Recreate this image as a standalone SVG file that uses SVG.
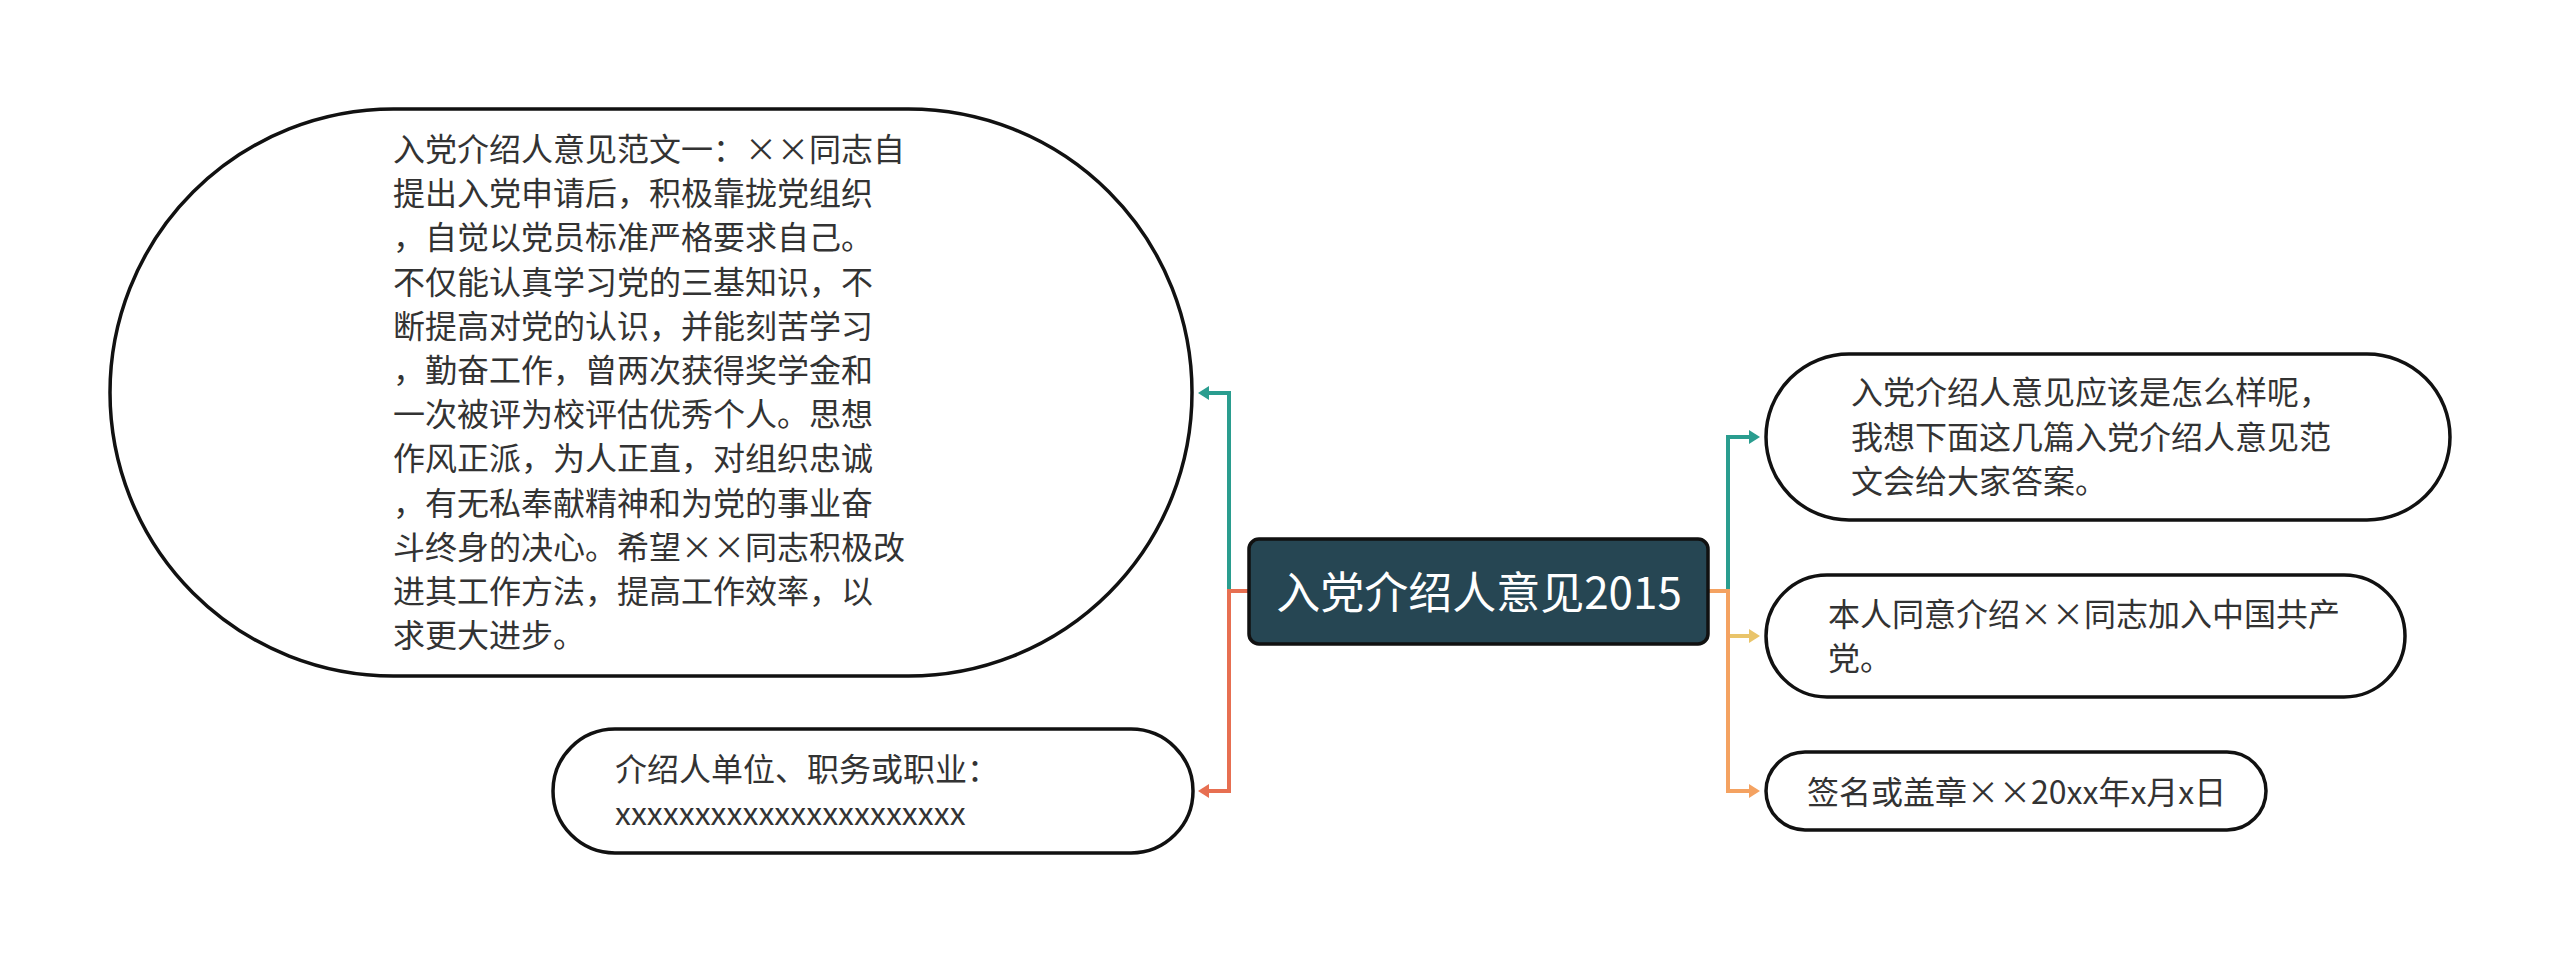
<svg xmlns="http://www.w3.org/2000/svg" width="2560" height="963" viewBox="0 0 2560 963">
<defs>
<style>
.node{fill:#ffffff;stroke:#111111;stroke-width:3.5}
.t{font-family:"Noto Sans CJK SC","Noto Sans",sans-serif;font-size:32px;fill:#333333}
.ct{font-family:"Noto Sans CJK SC","Noto Sans",sans-serif;font-size:44px;fill:#ffffff}
.c{fill:none;stroke-width:4}
</style>
<marker id="aTeal" markerUnits="userSpaceOnUse" markerWidth="12" markerHeight="16" refX="0" refY="7" orient="auto" viewBox="0 0 12 16"><path d="M0,0 L11,7 L0,14 z" fill="#2a9d8f"/></marker>
<marker id="aRed" markerUnits="userSpaceOnUse" markerWidth="12" markerHeight="16" refX="0" refY="7" orient="auto" viewBox="0 0 12 16"><path d="M0,0 L11,7 L0,14 z" fill="#e76f51"/></marker>
<marker id="aYel" markerUnits="userSpaceOnUse" markerWidth="12" markerHeight="16" refX="0" refY="7" orient="auto" viewBox="0 0 12 16"><path d="M0,0 L11,7 L0,14 z" fill="#e9c46a"/></marker>
<marker id="aOra" markerUnits="userSpaceOnUse" markerWidth="12" markerHeight="16" refX="0" refY="7" orient="auto" viewBox="0 0 12 16"><path d="M0,0 L11,7 L0,14 z" fill="#f4a261"/></marker>
</defs>
<rect width="2560" height="963" fill="#ffffff"/>
<g id="connectors">
<path class="c" stroke="#2a9d8f" d="M1229,591 V393 H1209" marker-end="url(#aTeal)"/>
<path class="c" stroke="#e76f51" d="M1249,591 H1229 V791 H1209" marker-end="url(#aRed)"/>
<path class="c" stroke="#2a9d8f" d="M1728,591 V437 H1749" marker-end="url(#aTeal)"/>
<path class="c" stroke="#e9c46a" d="M1728,636 H1749" marker-end="url(#aYel)"/>
<path class="c" stroke="#f4a261" d="M1709,591 H1728 V791 H1749" marker-end="url(#aOra)"/>
</g>
<g id="center">
<rect x="1249" y="539" width="459" height="105" rx="10" fill="#264653" stroke="#111111" stroke-width="3.5"/>
<text class="ct" x="1479" y="609" text-anchor="middle">入党介绍人意见2015</text>
</g>
<g id="node-left-1">
<rect class="node" x="110" y="109" width="1082" height="567" rx="283.5"/>
<text class="t">
<tspan x="393" y="161">入党介绍人意见范文一：××同志自</tspan>
<tspan x="393" y="205.2">提出入党申请后，积极靠拢党组织</tspan>
<tspan x="393" y="249.4">，自觉以党员标准严格要求自己。</tspan>
<tspan x="393" y="293.6">不仅能认真学习党的三基知识，不</tspan>
<tspan x="393" y="337.8">断提高对党的认识，并能刻苦学习</tspan>
<tspan x="393" y="382">，勤奋工作，曾两次获得奖学金和</tspan>
<tspan x="393" y="426.2">一次被评为校评估优秀个人。思想</tspan>
<tspan x="393" y="470.4">作风正派，为人正直，对组织忠诚</tspan>
<tspan x="393" y="514.6">，有无私奉献精神和为党的事业奋</tspan>
<tspan x="393" y="558.8">斗终身的决心。希望××同志积极改</tspan>
<tspan x="393" y="603">进其工作方法，提高工作效率，以</tspan>
<tspan x="393" y="647.2">求更大进步。</tspan>
</text>
</g>
<g id="node-left-2">
<rect class="node" x="553" y="729" width="640" height="124" rx="62"/>
<text class="t">
<tspan x="615" y="781">介绍人单位、职务或职业：</tspan>
<tspan x="615" y="825">xxxxxxxxxxxxxxxxxxxxxx</tspan>
</text>
</g>
<g id="node-right-1">
<rect class="node" x="1766" y="354" width="684" height="166" rx="83"/>
<text class="t">
<tspan x="1851" y="404">入党介绍人意见应该是怎么样呢，</tspan>
<tspan x="1851" y="448.5">我想下面这几篇入党介绍人意见范</tspan>
<tspan x="1851" y="493">文会给大家答案。</tspan>
</text>
</g>
<g id="node-right-2">
<rect class="node" x="1766" y="575" width="639" height="122" rx="61"/>
<text class="t">
<tspan x="1828" y="626">本人同意介绍××同志加入中国共产</tspan>
<tspan x="1828" y="670">党。</tspan>
</text>
</g>
<g id="node-right-3">
<rect class="node" x="1766" y="752" width="500" height="78" rx="39"/>
<text class="t" x="1807" y="804">签名或盖章××20xx年x月x日</text>
</g>
</svg>
